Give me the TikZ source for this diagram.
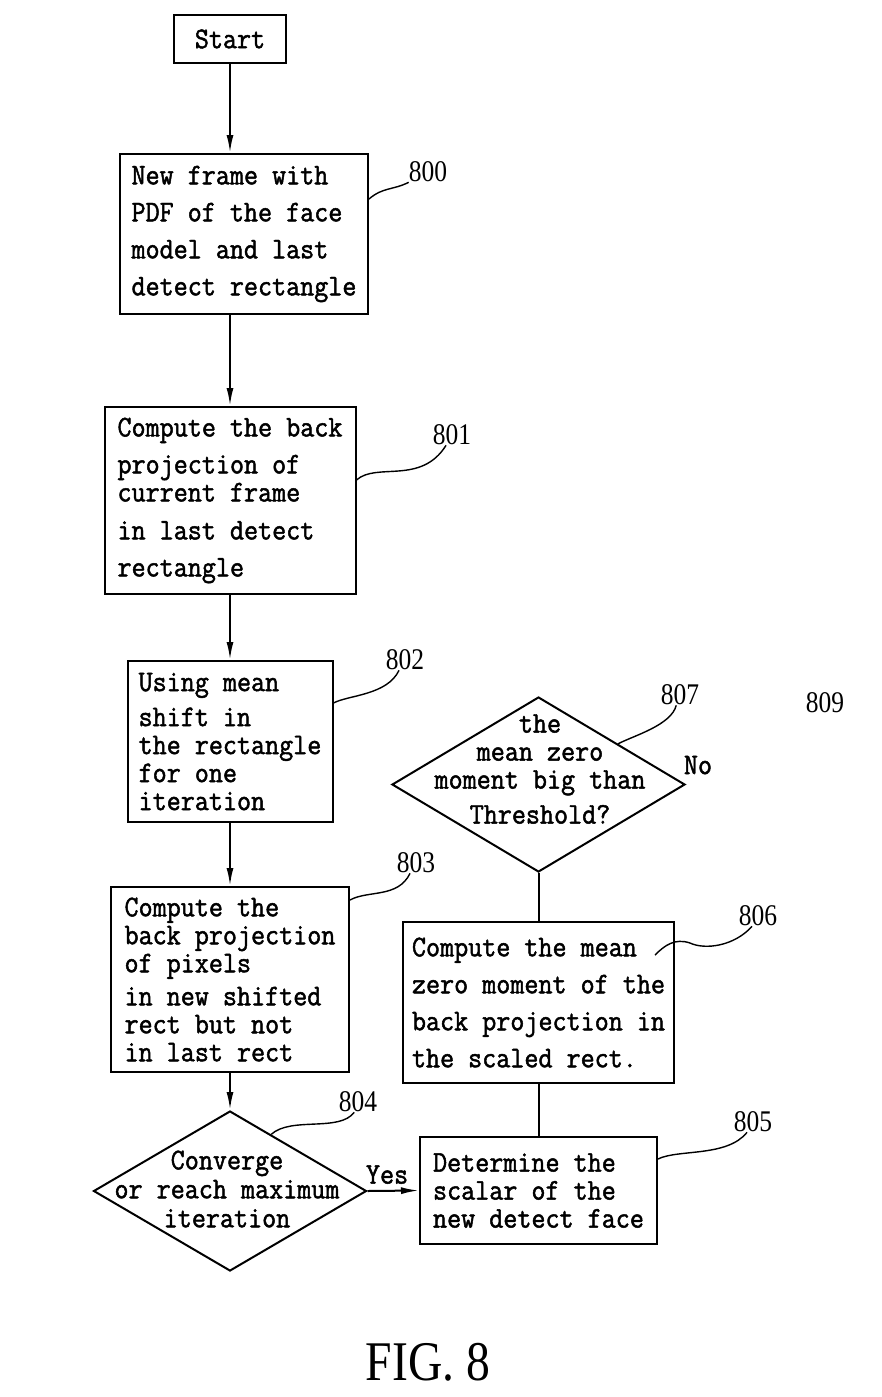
\documentclass[tikz,border=0pt]{standalone}
\usepackage{fontspec}
\usetikzlibrary{shapes.geometric,% diamond decisions
arrows.meta,%                   arrow tips
calc}
\newfontfamily\boxfont[FakeStretch=0.91,FakeBold=1.6]{Latin Modern Mono}
\newfontfamily\numfont[FakeStretch=0.85]{Liberation Serif}
\tikzset{every node/.style={font=\boxfont\fontsize{30}{28}\selectfont, inner sep=0pt},
  box/.style={draw, line width=2pt, align=left},
  decision/.style={diamond, draw, line width=2pt},
  flow/.style={line width=2pt, -{Latex[length=18pt,width=7pt]}},
  link/.style={line width=2pt},
  leader/.style={line width=1.4pt},
  refnum/.style={font=\numfont\fontsize{30}{30}\selectfont}}

\begin{document}
\begin{tikzpicture}[x=1pt,y=-1pt]
  \useasboundingbox (0,0) rectangle (881,1397);
  % left column
  \node[box, align=center, minimum width=112pt, minimum height=48pt] (start) at (230,39) {Start};
  \node[box, minimum width=248pt, minimum height=160pt] (b800) at (244,234)
     {New frame with\\[9pt] PDF of the face\\[9pt] model and last\\[9pt] detect rectangle};
  \node[box, minimum width=251pt, minimum height=187pt] (b801) at (230,500.5)
     {Compute the back\\[9pt] projection of\\ current frame\\[10pt] in last detect\\[9pt] rectangle};
  \node[box, minimum width=205pt, minimum height=161pt] (b802) at (230,741.5)
     {Using mean\\[7pt] shift in\\ the rectangle\\ for one\\ iteration};
  \node[box, minimum width=238pt, minimum height=185pt] (b803) at (230,979.5)
     {Compute the\\ back projection\\ of pixels\\[5pt] in new shifted\\ rect but not\\ in last rect};
  \node[decision, minimum width=273pt, minimum height=160pt] (d804) at (230,1191) {};
  \node[align=center] (t804) at (227,1189) {Converge\\[1pt] or reach maximum\\[1pt] iteration};
  % right column
  \node[box, minimum width=237pt, minimum height=107pt] (b805) at (538.5,1190.5)
     {Determine the\\ scalar of the\\ new detect face};
  \node[box, minimum width=271pt, minimum height=161pt] (b806) at (538.5,1002.5)
     {Compute the mean\\[9pt] zero moment of the\\[9pt] back projection in\\[9pt] the scaled rect.};
  \node[decision, minimum width=293pt, minimum height=175pt] (d807) at (538.5,784.5) {};
  \node[align=center] (t807) at (540,769) {the\\ mean zero\\ moment big than\\[7pt] Threshold?};
  % connectors
  \foreach \a/\b in {start/b800,b800/b801,b801/b802,b802/b803,b803/d804}
    \draw[flow] (\a.south -| start) -- (\b.north -| start);
  \draw[flow] (d804.east) -- node[above, pos=0.38, yshift=6pt] (yes) {Yes} (b805.west);
  \draw[link] (b805.north) -- (b806.south);
  \draw[link] (b806.north) -- (d807.south);
  \node (no) at (698,765) {No};
  % reference numerals
  \node[refnum] (l800) at (428,172) {800};
  \node[refnum] (l801) at (452,435) {801};
  \node[refnum] (l802) at (405,660) {802};
  \node[refnum] (l803) at (416,863) {803};
  \node[refnum] (l804) at (358,1102) {804};
  \node[refnum] (l805) at (753,1122) {805};
  \node[refnum] (l806) at (758,916) {806};
  \node[refnum] (l807) at (680,695) {807};
  \node[refnum] (l809) at (825,703) {809};
  \coordinate (c806) at (655,955);
  \draw[leader] (b800.east |- 0,199) .. controls +(14,-12) and +(-16,8) .. (l800.south west);
  \draw[leader] (b801.east |- 0,480) .. controls +(20,-18) and +(-25,40) .. (l801.240);
  \draw[leader] (b802.east |- 0,703) .. controls +(15,-8) and +(-12,25) .. (l802.240);
  \draw[leader] (b803.east |- 0,900) .. controls +(18,-10) and +(-12,25) .. (l803.240);
  \draw[leader] ($(d804.north)!0.3!(d804.east)$) .. controls +(20,-18) and +(-15,20) .. (l804.250);
  \draw[leader] (b805.east |- 0,1159) .. controls +(20,-10) and +(-20,25) .. (l805.240);
  \draw[leader] (c806) .. controls +(10,-10) and +(-15,-5) .. (690,943)
     .. controls +(15,7) and +(-18,20) .. (l806.240);
  \draw[leader] ($(d807.north)!0.54!(d807.east)$) .. controls +(15,-8) and +(-5,20) .. (l807.250);
  \node[font=\numfont\fontsize{56}{56}\selectfont] (fig) at (428,1362) {FIG. 8};
\end{tikzpicture}
\end{document}
